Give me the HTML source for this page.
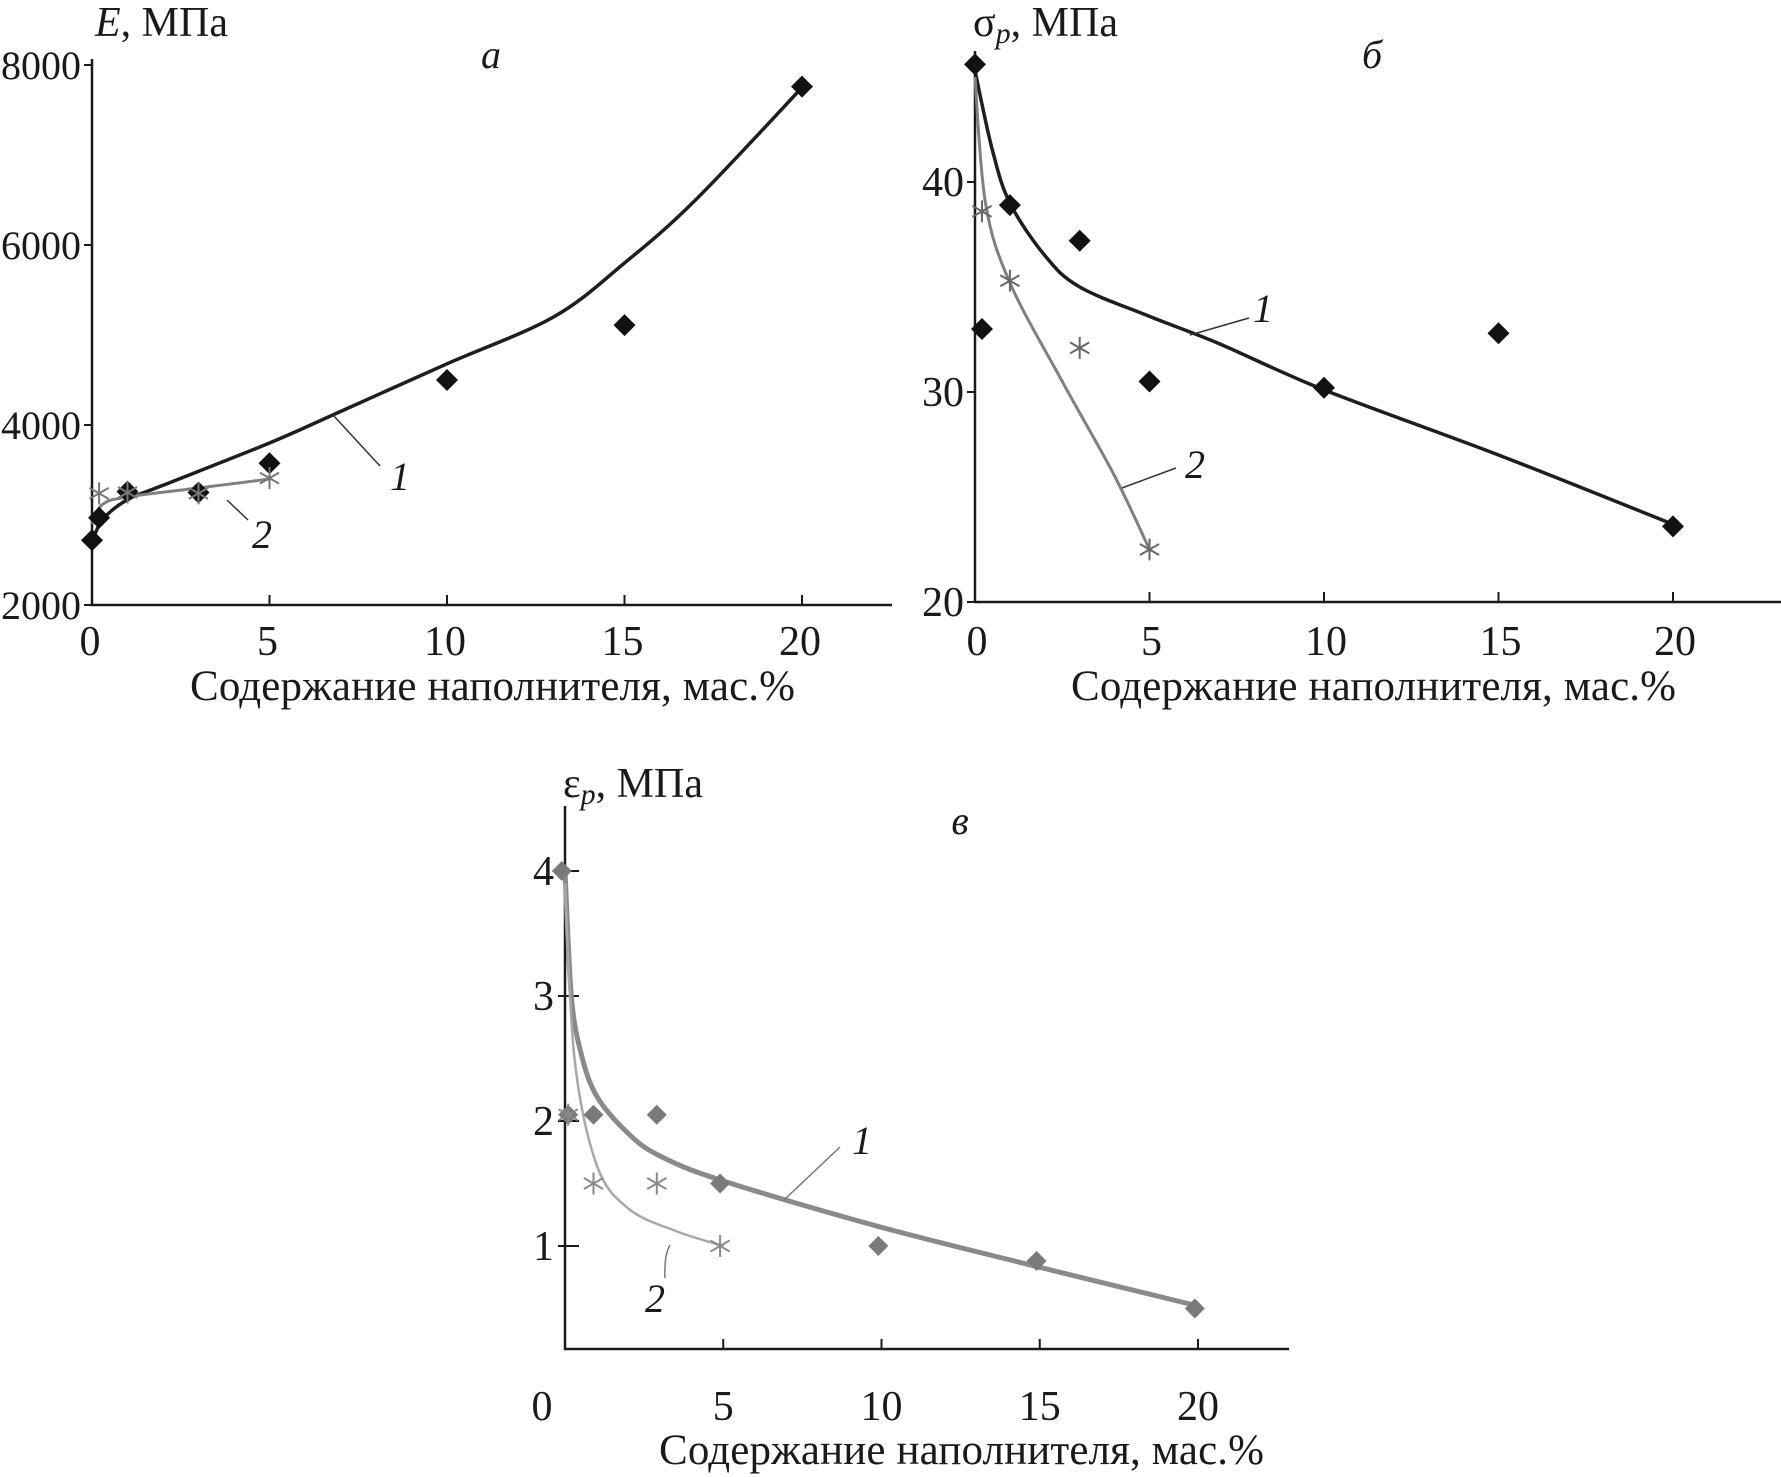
<!DOCTYPE html>
<html><head><meta charset="utf-8"><style>
html,body{margin:0;padding:0;background:#fff}
svg{display:block}
text{font-family:"Liberation Serif",serif;fill:#1a1a1a}
</style></head><body>
<svg id="fig" width="1781" height="1477" viewBox="0 0 1781 1477" xmlns="http://www.w3.org/2000/svg"></svg>
<script>
// ---- Panel a data ----
const aX = [0, 0.2, 1, 3, 5, 10, 15, 20];
const aS1 = [2720, 2970, 3260, 3250, 3575, 4500, 5110, 7760];
const aX2 = [0.2, 1, 3, 5];
const aS2 = [3240, 3250, 3240, 3410];
const aC1x = [0, 0.3, 1, 2, 5, 7, 10, 13, 15, 17, 20];
const aC1y = [2700, 2950, 3170, 3330, 3800, 4150, 4680, 5200, 5800, 6500, 7750];
const aC2x = [0, 0.3, 1, 3, 5];
const aC2y = [2900, 3120, 3200, 3300, 3400];
const aYTicks = [2000, 4000, 6000, 8000];
const xTicks = [0, 5, 10, 15, 20];
// ---- Panel b data ----
const bX = [0, 0.2, 1, 3, 5, 10, 15, 20];
const bS1 = [45.6, 33.0, 38.9, 37.2, 30.5, 30.2, 32.8, 23.6];
const bX2 = [0.2, 1, 3, 5];
const bS2 = [38.6, 35.3, 32.1, 22.5];
const bC1x = [0, 0.5, 1, 2, 3, 5, 7, 10, 15, 20];
const bC1y = [45.3, 41.5, 39, 36.5, 35, 33.6, 32.3, 30.1, 27, 23.7];
const bC2x = [0, 0.3, 1, 2.5, 4, 5];
const bC2y = [45, 39, 35.2, 30.5, 26, 22.5];
const bYTicks = [20, 30, 40];
// ---- Panel c data ----
const cX = [-0.1, 0.1, 0.9, 2.9, 4.9, 9.9, 14.9, 19.9];
const cS1 = [4.0, 2.05, 2.05, 2.05, 1.5, 1.0, 0.88, 0.5];
const cX2 = [0.1, 0.9, 2.9, 4.9];
const cS2 = [2.05, 1.5, 1.5, 1.0];
const cC1x = [0, 0.2, 0.5, 1, 2, 3, 5, 10, 15, 20];
const cC1y = [4.0, 3.0, 2.55, 2.2, 1.9, 1.72, 1.52, 1.15, 0.83, 0.52];
const cC2x = [0, 0.3, 1, 2, 3.5, 5];
const cC2y = [3.9, 2.5, 1.65, 1.3, 1.12, 1.0];
const cYTicks = [1, 2, 3, 4];

const NS = "http://www.w3.org/2000/svg";
const svg = document.getElementById('fig');
function mk(tag, attrs, parent){const e=document.createElementNS(NS,tag);for(const k in attrs)e.setAttribute(k,attrs[k]);(parent||svg).appendChild(e);return e;}
function txt(s, x, y, size, anchor, parent, italic){const t=mk('text',{x:x,y:y,'font-size':size,'text-anchor':anchor||'start'},parent);if(italic)t.setAttribute('font-style','italic');t.textContent=s;return t;}
function lin(x0,x1,p0,p1){return v=>p0+(v-x0)*(p1-p0)/(x1-x0);}
function smooth(xs, ys, sx, sy){
  const P=xs.map((x,i)=>[sx(x),sy(ys[i])]);
  let d='M'+P[0][0].toFixed(1)+','+P[0][1].toFixed(1);
  for(let i=0;i<P.length-1;i++){
    const p0=P[i-1]||P[i],p1=P[i],p2=P[i+1],p3=P[i+2]||P[i+1];
    const c1=[p1[0]+(p2[0]-p0[0])/6,p1[1]+(p2[1]-p0[1])/6];
    const c2=[p2[0]-(p3[0]-p1[0])/6,p2[1]-(p3[1]-p1[1])/6];
    d+=' C'+c1[0].toFixed(1)+','+c1[1].toFixed(1)+' '+c2[0].toFixed(1)+','+c2[1].toFixed(1)+' '+p2[0].toFixed(1)+','+p2[1].toFixed(1);
  }
  return d;
}
function diamond(x,y,r,color,parent){return mk('polygon',{points:`${x},${y-r} ${x+r},${y} ${x},${y+r} ${x-r},${y}`,fill:color},parent);}
function star(x,y,r,color,parent){const g=mk('g',{stroke:color,'stroke-width':2},parent);
  mk('line',{x1:x,y1:y-r,x2:x,y2:y+r},g);
  mk('line',{x1:x-r*0.87,y1:y-r*0.5,x2:x+r*0.87,y2:y+r*0.5},g);
  mk('line',{x1:x-r*0.87,y1:y+r*0.5,x2:x+r*0.87,y2:y-r*0.5},g);return g;}
const TF=42, TT=42, XT=43;

// ================= Panel a =================
(function(){
  const g=mk('g',{});
  
  
  const sx=lin(0,20,92,802), sy=lin(2000,8000,605,65);
  const ax=mk('path',{d:'M92,59 V605 H892',fill:'none',stroke:'#1a1a1a','stroke-width':2.5},g);
  
  
  aYTicks.forEach(v=>{
    mk('line',{x1:84,x2:92,y1:sy(v),y2:sy(v),stroke:'#1a1a1a','stroke-width':2},g);
    const t=txt(String(v),81,sy(v)+14,40,'end',g);
    
    
  });
  xTicks.forEach(v=>{
    mk('line',{x1:sx(v),x2:sx(v),y1:605,y2:595,stroke:'#1a1a1a','stroke-width':2},g);
    const t=txt(String(v),sx(v)-2,655,TF,'middle',g);
    
    
  });
  const c1=mk('path',{d:smooth(aC1x,aC1y,sx,sy),fill:'none',stroke:'#1e1e1e','stroke-width':3.5},g);
  
  
  const c2=mk('path',{d:smooth(aC2x,aC2y,sx,sy),fill:'none',stroke:'#808080','stroke-width':3},g);
  
  
  aX.forEach((x,i)=>{const d=diamond(sx(x),sy(aS1[i]),11,'#111',g);
    
    });
  aX2.forEach((x,i)=>{const s=star(sx(x),sy(aS2[i]),11,'#777',g);
    
    });
  mk('line',{x1:333,y1:415,x2:380,y2:466,stroke:'#333','stroke-width':1.5},g);
  mk('line',{x1:227,y1:500,x2:248,y2:520,stroke:'#333','stroke-width':1.5},g);
  const l1=txt('1',390,490,40,'start',g,true);
  
  
  const l2=txt('2',252,548,40,'start',g,true);
  
  
  const pl=txt('а',491,68,40,'middle',g,true);
  
  
  const yt=mk('text',{x:95,y:36,'font-size':TT},g);
  
  
  yt.innerHTML='<tspan font-style="italic">E</tspan>, МПа';
  const xt=txt('Содержание наполнителя, мас.%',190,700,XT,'start',g);
  xt.setAttribute('textLength','605');
  
  
})();

// ================= Panel b =================
(function(){
  const g=mk('g',{});
  
  
  const sx=lin(0,20,975,1673), sy=lin(20,40,602,182);
  const ax=mk('path',{d:'M975,51 V602 H1781',fill:'none',stroke:'#1a1a1a','stroke-width':2.5},g);
  
  
  bYTicks.forEach(v=>{
    mk('line',{x1:967,x2:975,y1:sy(v),y2:sy(v),stroke:'#1a1a1a','stroke-width':2},g);
    const t=txt(String(v),964,sy(v)+14,TF,'end',g);
    
    
  });
  xTicks.forEach(v=>{
    mk('line',{x1:sx(v),x2:sx(v),y1:602,y2:592,stroke:'#1a1a1a','stroke-width':2},g);
    const t=txt(String(v),sx(v)+2,655,TF,'middle',g);
    
    
  });
  const c1=mk('path',{d:smooth(bC1x,bC1y,sx,sy),fill:'none',stroke:'#1e1e1e','stroke-width':3.5},g);
  
  
  const c2=mk('path',{d:smooth(bC2x,bC2y,sx,sy),fill:'none',stroke:'#808080','stroke-width':3},g);
  
  
  bX.forEach((x,i)=>{const d=diamond(sx(x),sy(bS1[i]),11,'#111',g);
    
    });
  bX2.forEach((x,i)=>{const s=star(sx(x),sy(bS2[i]),11,'#666',g);
    
    });
  mk('line',{x1:1190,y1:335,x2:1249,y2:318,stroke:'#333','stroke-width':1.5},g);
  mk('line',{x1:1122,y1:488,x2:1176,y2:468,stroke:'#333','stroke-width':1.5},g);
  const l1=txt('1',1253,322,40,'start',g,true);
  
  
  const l2=txt('2',1185,478,40,'start',g,true);
  
  
  const pl=txt('б',1372,68,40,'middle',g,true);
  
  
  const yt=mk('text',{x:973,y:36,'font-size':TT},g);
  
  
  yt.innerHTML='σ<tspan font-style="italic" font-size="30" dy="7">p</tspan><tspan dy="-7">, МПа</tspan>';
  const xt=txt('Содержание наполнителя, мас.%',1071,700,XT,'start',g);
  xt.setAttribute('textLength','605');
  
  
})();

// ================= Panel c =================
(function(){
  const g=mk('g',{});
  
  
  const sx=lin(0,20,565,1198), sy=lin(1,4,1246,871);
  const ax=mk('path',{d:'M565,806 V1349 H1289',fill:'none',stroke:'#1a1a1a','stroke-width':2.5},g);
  
  
  cYTicks.forEach(v=>{
    mk('line',{x1:558,x2:579,y1:sy(v),y2:sy(v),stroke:'#1a1a1a','stroke-width':2},g);
    const t=txt(String(v),554,sy(v)+14,TF,'end',g);
    
    
  });
  xTicks.forEach(v=>{
    mk('line',{x1:sx(v),x2:sx(v),y1:1349,y2:1339,stroke:'#1a1a1a','stroke-width':2},g);
    const t=txt(String(v),v===0?542:sx(v),1420,TF,'middle',g);
    
    
  });
  const c1=mk('path',{d:smooth(cC1x,cC1y,sx,sy),fill:'none',stroke:'#8a8a8a','stroke-width':5},g);
  
  
  const c2=mk('path',{d:smooth(cC2x,cC2y,sx,sy),fill:'none',stroke:'#a8a8a8','stroke-width':2.5},g);
  
  
  cX.forEach((x,i)=>{const d=diamond(sx(x),sy(cS1[i]),10,'#7a7a7a',g);
    
    });
  cX2.forEach((x,i)=>{const s=star(sx(x),sy(cS2[i]),11,'#8a8a8a',g);
    
    });
  mk('line',{x1:784,y1:1200,x2:840,y2:1147,stroke:'#777','stroke-width':1.5},g);
  mk('path',{d:'M670,1245 Q664,1255 665,1278',fill:'none',stroke:'#777','stroke-width':1.5},g);
  const l1=txt('1',852,1154,40,'start',g,true);
  
  
  const l2=txt('2',645,1312,40,'start',g,true);
  
  
  const pl=txt('в',960,834,40,'middle',g,true);
  
  
  const yt=mk('text',{x:563,y:797,'font-size':TT},g);
  
  
  yt.innerHTML='ε<tspan font-style="italic" font-size="30" dy="7">p</tspan><tspan dy="-7">, МПа</tspan>';
  const xt=txt('Содержание наполнителя, мас.%',659,1464,XT,'start',g);
  xt.setAttribute('textLength','605');
  
  
})();
</script>
</body></html>
